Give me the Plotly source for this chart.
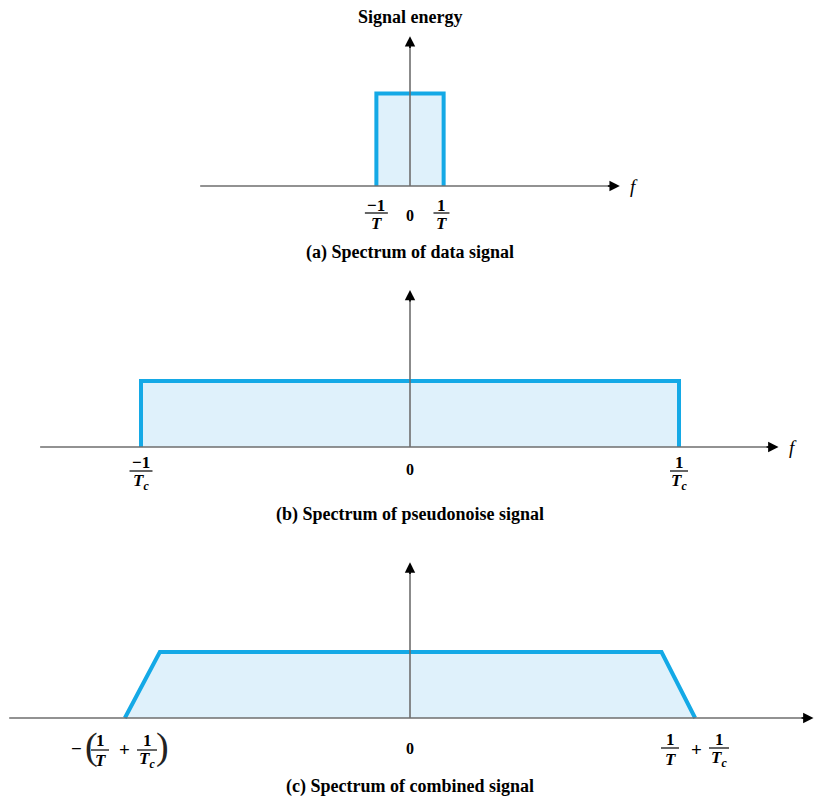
import plotly.graph_objects as go

# frequency in units of the chip rate 1/Tc, energy in arbitrary units
data_f = [-0.125, -0.125, 0.125, 0.125]
data_energy = [0, 1.4, 1.4, 0]

pn_f = [-1.0, -1.0, 1.0, 1.0]
pn_energy = [0, 1, 1, 0]

comb_f = [-1.06, -0.93, 0.935, 1.06]
comb_energy = [0, 1, 1, 0]

captions = ["(a) Spectrum of data signal",
            "(b) Spectrum of pseudonoise signal",
            "(c) Spectrum of combined signal"]

OFF = 8                             # page body margin around the plot div
W, H = 827 - OFF, 801 - OFF
X0, XS, YS = 410 - OFF, 269, 66     # px of f=0, px per x unit, px per y unit
BLUE, FILL, AXIS = "#14a9e6", "#dff1fb", "#6e6e6e"
SERIF = "Liberation Serif, Times New Roman, serif"

# panel layout in page px: (top, bottom, baseline)
panels = [(p[0] - OFF, p[1] - OFF, p[2] - OFF)
          for p in [(8, 270, 186), (270, 540, 447), (540, 801, 718)]]
axis_span = [(-0.78, 0.78, 2.27), (-1.375, 1.37, 2.38), (-1.49, 1.5, 2.36)]

fig = go.Figure()
layout_axes = {}
for i, (top, bot, base) in enumerate(panels):
    name = "yaxis" if i == 0 else f"yaxis{i+1}"
    layout_axes[name] = dict(domain=[1 - bot / H, 1 - top / H],
                             range=[-(bot - base) / YS, (base - top) / YS],
                             visible=False, anchor="x", fixedrange=True)

series = [(data_f, data_energy), (pn_f, pn_energy), (comb_f, comb_energy)]
yrefs = ["y", "y2", "y3"]


def txt(x, y_px, panel, s, size=17, color="black"):
    # y_px is a page pixel row
    base = panels[panel][2]
    fig.add_annotation(x=x, y=-(y_px - OFF - base) / YS, xref="x", yref=yrefs[panel],
                       showarrow=False, text=s,
                       font=dict(family=SERIF, size=size, color=color))


def frac(x, panel, num, den, num_px, bar_px, den_px, w_px):
    base = panels[panel][2]
    txt(x, num_px, panel, f"<b>{num}</b>")
    txt(x, den_px, panel, f"<b><i>{den}</i></b>")
    half = w_px / 2 / XS
    yb = -(bar_px - OFF - base) / YS
    fig.add_shape(type="line", x0=x - half, x1=x + half, y0=yb, y1=yb,
                  xref="x", yref=yrefs[panel], line=dict(color="black", width=1.2))


for i, (f, e) in enumerate(series):
    yr = yrefs[i]
    fig.add_trace(go.Scatter(x=f, y=e, mode="lines", fill="tozeroy", fillcolor=FILL,
                             line=dict(color=BLUE, width=4), yaxis=yr, hoverinfo="skip"))
    x_lo, x_hi, y_tip = axis_span[i]
    # horizontal and vertical axes
    fig.add_trace(go.Scatter(x=[x_lo, x_hi - 0.03], y=[0, 0], mode="lines",
                             line=dict(color=AXIS, width=1.6), yaxis=yr, hoverinfo="skip"))
    fig.add_trace(go.Scatter(x=[0, 0], y=[0, y_tip - 0.1], mode="lines",
                             line=dict(color=AXIS, width=1.6), yaxis=yr, hoverinfo="skip"))
    fig.add_annotation(x=x_hi, y=0, ax=x_hi - 0.05, ay=0, xref="x", yref=yr,
                       axref="x", ayref=yr, showarrow=True, arrowhead=2, arrowsize=1.3,
                       arrowwidth=1.6, arrowcolor="black", text="", standoff=0)
    fig.add_annotation(x=0, y=y_tip, ax=0, ay=y_tip - 0.2, xref="x", yref=yr,
                       axref="x", ayref=yr, showarrow=True, arrowhead=2, arrowsize=1.3,
                       arrowwidth=1.6, arrowcolor="black", text="", standoff=0)
    # f label
    fig.add_annotation(x=x_hi + 8 / XS, y=0, xref="x", yref=yr, showarrow=False,
                       text="<i>f</i>", xanchor="left",
                       font=dict(family=SERIF, size=19, color="black"))
    # caption
    txt(0, [252, 514, 786][i], i, f"<b>{captions[i]}</b>", size=18)


TC = "T<sub>c</sub>"

# panel (a)
frac(data_f[0], 0, "\u22121", "T", 205, 213, 223, 23)
frac(data_f[-1] - 0.008, 0, "1", "T", 205, 213, 223, 16)
txt(0, 215, 0, "<b>0</b>", size=16)

# panel (b)
frac(pn_f[0], 1, "\u22121", TC, 462, 471, 482, 23)
frac(pn_f[-1], 1, "1", TC, 462, 471, 482, 18)
txt(0, 469, 1, "<b>0</b>", size=16)

# panel (c)
px = lambda p: (p - 410) / XS
txt(px(76), 748, 2, "<b>\u2212</b>", size=19)
txt(px(91), 746, 2, "(", size=38, color="#222")
frac(px(100), 2, "1", "T", 740, 750, 760, 18)
txt(px(124), 749, 2, "<b>+</b>", size=19)
frac(px(147), 2, "1", TC, 740, 750, 760, 20)
txt(px(162), 746, 2, ")", size=38, color="#222")
txt(0, 748, 2, "<b>0</b>", size=16)
frac(px(670), 2, "1", "T", 739, 748, 759, 18)
txt(px(696), 749, 2, "<b>+</b>", size=19)
frac(px(719), 2, "1", TC, 739, 748, 759, 20)

# header
txt(0, 17, 0, "<b>Signal energy</b>", size=18)

fig.update_layout(
    width=W, height=H, margin=dict(l=0, r=0, t=0, b=0),
    paper_bgcolor="white", plot_bgcolor="white", showlegend=False,
    xaxis=dict(range=[-X0 / XS, (W - X0) / XS], visible=False, fixedrange=True),
    **layout_axes,
)
fig.write_html("out.html", config={"displayModeBar": False})
